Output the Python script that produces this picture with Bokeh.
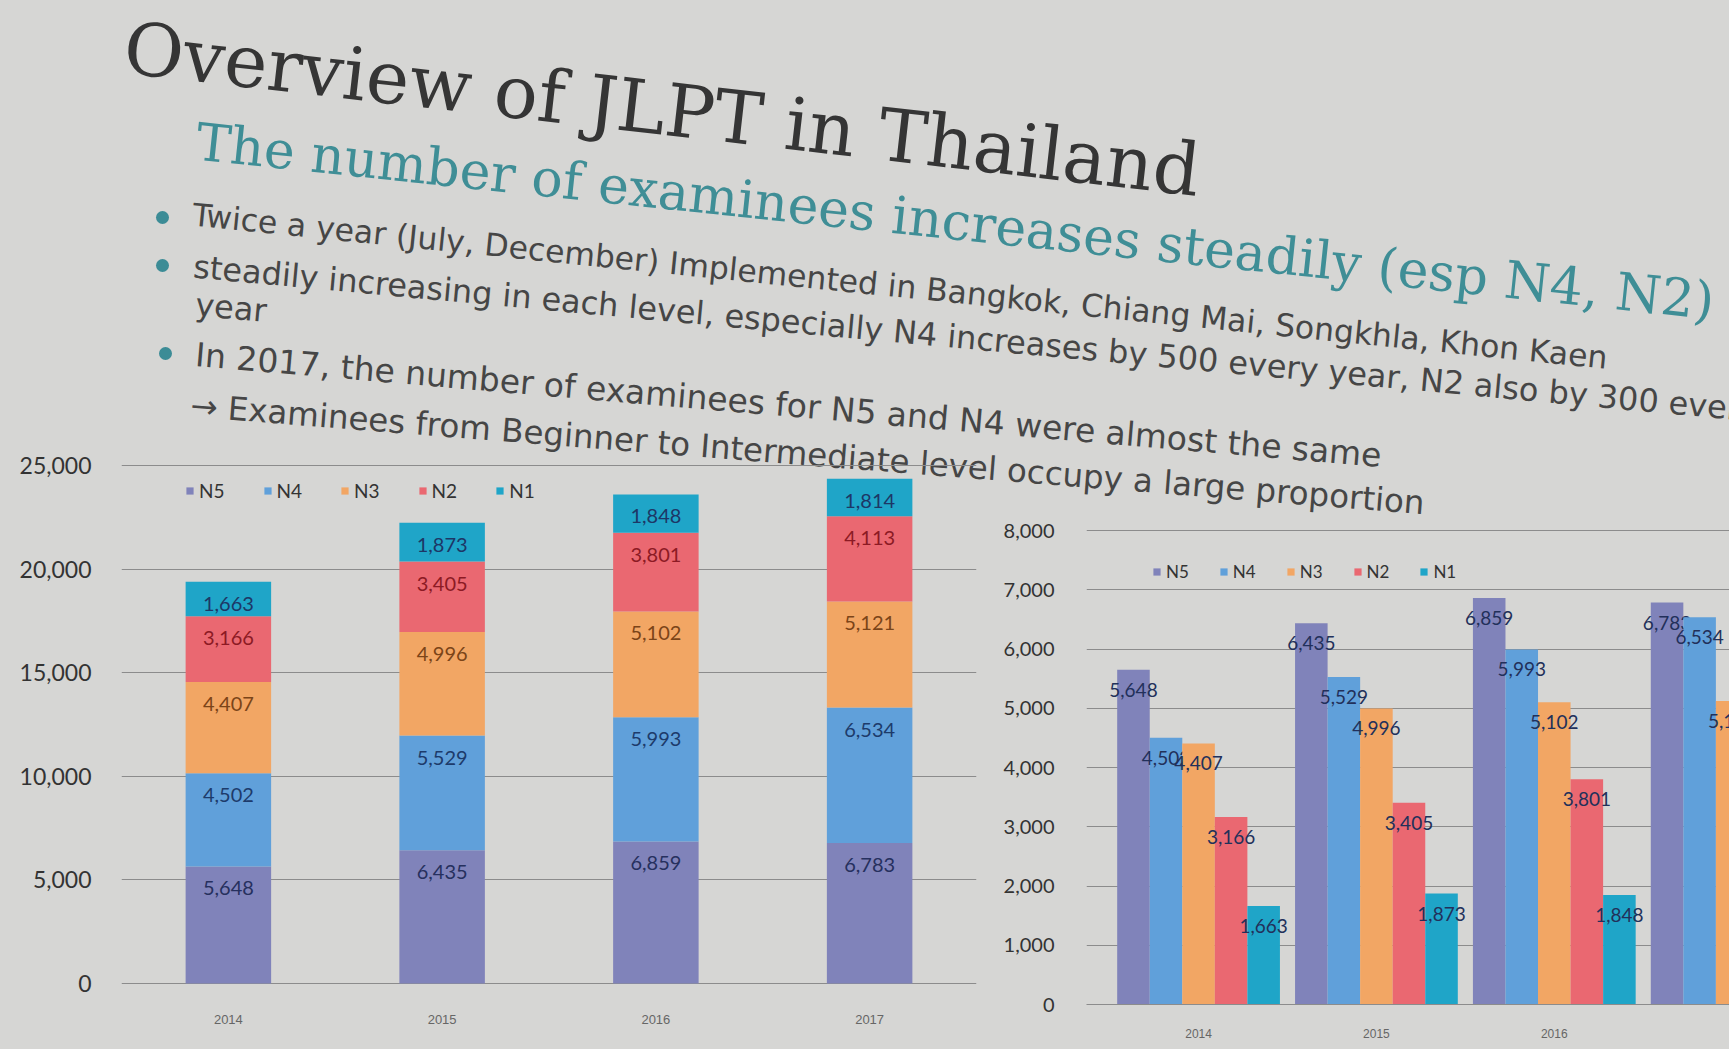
from bokeh.plotting import figure
from bokeh.models import (ColumnDataSource, Range1d, FactorRange, Label, Legend, LegendItem,
                          NumeralTickFormatter, FixedTicker, GridBox)
from bokeh.core.properties import value
from bokeh.transform import dodge
from bokeh.embed import file_html
from bokeh.resources import INLINE

# ---------------- data ----------------
years = ["2014", "2015", "2016", "2017"]
levels = ["N5", "N4", "N3", "N2", "N1"]
n5 = [5648, 6435, 6859, 6783]
n4 = [4502, 5529, 5993, 6534]
n3 = [4407, 4996, 5102, 5121]
n2 = [3166, 3405, 3801, 4113]
n1 = [1663, 1873, 1848, 1814]
left_y_ticks = [0, 5000, 10000, 15000, 20000, 25000]
right_y_ticks = [0, 1000, 2000, 3000, 4000, 5000, 6000, 7000, 8000]

title_text = "Overview of JLPT in Thailand"
subtitle_text = "The number of examinees increases steadily (esp N4, N2)"
bullet_1 = "Twice a year (July, December) Implemented in Bangkok, Chiang Mai, Songkhla, Khon Kaen"
bullet_2 = "steadily increasing in each level, especially N4 increases by 500 every year, N2 also by 300 every"
bullet_2b = "year"
bullet_3 = "In 2017, the number of examinees for N5 and N4 were almost the same"
bullet_3b = "\u2192 Examinees from Beginner to Intermediate level occupy a large proportion"

# ---------------- styles / layout ----------------
series = {"N5": n5, "N4": n4, "N3": n3, "N2": n2, "N1": n1}
bar_colors = {"N5": "#8083ba", "N4": "#60a0da", "N3": "#f2a664", "N2": "#ea6871", "N1": "#1fa5c8"}
label_colors_left = {"N5": "#26305e", "N4": "#1d3b6b", "N3": "#7b4418", "N2": "#8c1a24", "N1": "#1d3766"}
label_color_right = "#22305a"
BG = "#d6d6d4"
GRID = "#8c8c8c"
PAGE_W, PAGE_H = 1729, 1049
TOP_ROW = 420
CHART_H = PAGE_H - TOP_ROW
LEFT_W = 988
RIGHT_W = PAGE_W - LEFT_W
FRAME_TOP = 439
FRAME_BOTTOM = 1004
B_LEFT = 121                        # shared left border (header + left chart)
B_BOTTOM = PAGE_H - FRAME_BOTTOM    # shared bottom border
B_TOP = FRAME_TOP - TOP_ROW         # charts' top border
L_TOP_PX, L_ZERO_PX = 465, 983      # where 25,000 and 0 sit (screen y)
R_TOP_PX, R_ZERO_PX = 530, 1004     # where 8,000 and 0 sit (screen y)


def hx(x):
    return x


def hy(y):
    return PAGE_H - y


# ---------------- data source ----------------
data = dict(year=years, xi=list(range(len(years))))
cum = [0] * len(years)
for lvl in levels:
    vals = series[lvl]
    data[lvl] = vals
    cum = [c + v for c, v in zip(cum, vals)]
    data[lvl + "_top"] = cum
    data[lvl + "_lbl"] = [f"{v:,}" for v in vals]
src = ColumnDataSource(data)

# ---------------- header (slide text) ----------------
header = figure(width=PAGE_W, height=PAGE_H,
                x_range=Range1d(B_LEFT, PAGE_W), y_range=Range1d(B_BOTTOM, PAGE_H),
                x_axis_type=None, y_axis_type=None, output_backend="svg", toolbar_location=None,
                min_border_left=B_LEFT, min_border_right=0, min_border_top=0, min_border_bottom=B_BOTTOM,
                background_fill_color=BG, border_fill_color=BG, outline_line_color=None)

text_lines = [
    (title_text, 124, 47, -0.114, "DejaVu Serif", "73px", "#353535"),
    (subtitle_text, 196, 141, -0.105, "DejaVu Serif", "52px", "#3f8e96"),
    (bullet_1, 192, 214, -0.101, "DejaVu Sans", "31.5px", "#464646"),
    (bullet_2, 193, 266, -0.092, "DejaVu Sans", "32px", "#464646"),
    (bullet_2b, 195, 304, -0.092, "DejaVu Sans", "32px", "#464646"),
    (bullet_3, 195, 354, -0.085, "DejaVu Sans", "33px", "#464646"),
    (bullet_3b, 190, 405, -0.079, "DejaVu Sans", "32.5px", "#464646"),
]
for t, x, y, a, f, s, c in text_lines:
    header.add_layout(Label(x=hx(x), y=hy(y), text=t, angle=a, text_font=f, text_font_size=s,
                            text_color=c, text_align="left", text_baseline="alphabetic"))

dots_x = [162, 162, 165]
dots_y = [217, 265, 353]
header.scatter(x=[hx(v) for v in dots_x], y=[hy(v) for v in dots_y], size=13, marker="circle",
               color="#3c8c96", line_color=None)

# ---------------- left: stacked bars ----------------
left_ppu = (L_ZERO_PX - L_TOP_PX) / 25000
pL = figure(width=LEFT_W, height=CHART_H, x_range=FactorRange(factors=years),
            y_range=Range1d(-(FRAME_BOTTOM - L_ZERO_PX) / left_ppu, 25000 + (L_TOP_PX - FRAME_TOP) / left_ppu),
            output_backend="svg", toolbar_location=None,
            min_border_left=B_LEFT, min_border_right=12, min_border_top=B_TOP, min_border_bottom=B_BOTTOM,
            background_fill_alpha=0, border_fill_alpha=0, outline_line_color=None)
stack_r = pL.vbar_stack(levels, x="year", width=0.4, color=[bar_colors[l] for l in levels],
                        line_color=None, source=src)
for lvl in levels:
    pL.text(x="year", y=lvl + "_top", text=lvl + "_lbl", source=src, text_align="center",
            text_baseline="middle", y_offset=22, text_font=value("Lato"), text_font_size="20px",
            text_color=label_colors_left[lvl])

legL = Legend(items=[LegendItem(label=l, renderers=[r]) for l, r in zip(levels, stack_r)],
              location=(64, FRAME_BOTTOM - 502), orientation="horizontal", glyph_width=9, glyph_height=9,
              label_text_font="Lato", label_text_font_size="19px", label_text_color="#333333",
              label_standoff=5, spacing=38, padding=0, margin=0, border_line_color=None,
              background_fill_alpha=0)
pL.add_layout(legL)

pL.yaxis.ticker = FixedTicker(ticks=left_y_ticks)
pL.yaxis.formatter = NumeralTickFormatter(format="0,0")
pL.yaxis.major_label_text_font = "Lato"
pL.yaxis.major_label_text_font_size = "23px"
pL.yaxis.major_label_text_color = "#333333"
pL.yaxis.axis_line_color = None
pL.yaxis.major_tick_line_color = None
pL.yaxis.minor_tick_line_color = None
pL.yaxis.major_label_standoff = 24
pL.xaxis.axis_line_color = None
pL.xaxis.major_tick_line_color = None
pL.xaxis.major_label_text_font = "Liberation Sans"
pL.xaxis.major_label_text_font_size = "13px"
pL.xaxis.major_label_text_color = "#666666"
pL.xaxis.major_label_standoff = 4
pL.xgrid.grid_line_color = None
pL.ygrid.grid_line_color = GRID

# ---------------- right: grouped bars ----------------
right_ppu = (R_ZERO_PX - R_TOP_PX) / 8000
pR = figure(width=RIGHT_W, height=CHART_H, x_range=Range1d(-0.63, 2.985),
            y_range=Range1d(-(FRAME_BOTTOM - R_ZERO_PX) / right_ppu, 8000 + (R_TOP_PX - FRAME_TOP) / right_ppu),
            output_backend="svg", toolbar_location=None,
            min_border_left=98, min_border_right=0, min_border_top=B_TOP, min_border_bottom=B_BOTTOM,
            background_fill_alpha=0, border_fill_alpha=0, outline_line_color=None)
bar_w = 0.183
right_r = []
for i, lvl in enumerate(levels):
    off = (i - (len(levels) - 1) / 2) * bar_w
    r = pR.vbar(x=dodge("xi", off), top=lvl, width=bar_w, color=bar_colors[lvl], line_color=None, source=src)
    right_r.append(r)
    pR.text(x=dodge("xi", off), y=lvl, text=lvl + "_lbl", source=src, text_align="center",
            text_baseline="middle", y_offset=20, text_font=value("Lato"), text_font_size="19px",
            text_color=label_color_right)

legR = Legend(items=[LegendItem(label=l, renderers=[r]) for l, r in zip(levels, right_r)],
              location=(66, FRAME_BOTTOM - 582), orientation="horizontal", glyph_width=9, glyph_height=9,
              label_text_font="Lato", label_text_font_size="17px", label_text_color="#333333",
              label_standoff=5, spacing=30, padding=0, margin=0, border_line_color=None,
              background_fill_alpha=0)
pR.add_layout(legR)

pR.xaxis.ticker = FixedTicker(ticks=list(range(len(years))))
pR.xaxis.major_label_overrides = {i: y for i, y in enumerate(years)}
pR.xaxis.axis_line_color = GRID
pR.xaxis.major_tick_line_color = None
pR.xaxis.minor_tick_line_color = None
pR.xaxis.major_label_text_font = "Liberation Sans"
pR.xaxis.major_label_text_font_size = "12px"
pR.xaxis.major_label_text_color = "#666666"
pR.xaxis.major_label_standoff = 18
pR.yaxis.ticker = FixedTicker(ticks=right_y_ticks)
pR.yaxis.formatter = NumeralTickFormatter(format="0,0")
pR.yaxis.major_label_text_font = "Lato"
pR.yaxis.major_label_text_font_size = "20px"
pR.yaxis.major_label_text_color = "#333333"
pR.yaxis.axis_line_color = None
pR.yaxis.major_tick_line_color = None
pR.yaxis.minor_tick_line_color = None
pR.yaxis.major_label_standoff = 26
pR.xgrid.grid_line_color = None
pR.ygrid.grid_line_color = GRID

layout = GridBox(children=[(header, 0, 0, 2, 2), (pL, 1, 0), (pR, 1, 1)],
                 rows=[f"{TOP_ROW}px", f"{CHART_H}px"], cols=[f"{LEFT_W}px", f"{RIGHT_W}px"],
                 styles={"background-color": BG})

open("out.html", "w").write(file_html(layout, INLINE))
